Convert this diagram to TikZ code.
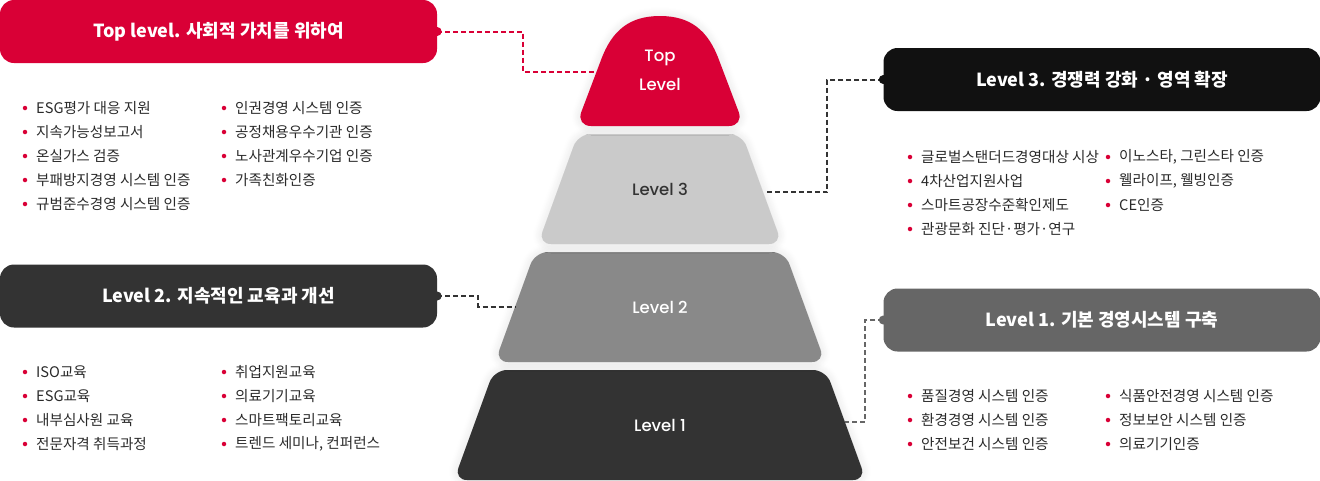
\documentclass[tikz,border=0pt]{standalone}
\usepackage{fontspec}
\usetikzlibrary{shadows.blur}
\setmainfont{Noto Sans CJK KR}
\newfontfamily\popfont{Poppins Medium}
\definecolor{bred}{HTML}{D90036}
\definecolor{hblack}{HTML}{111111}
\definecolor{hdark}{HTML}{333333}
\definecolor{hgrey}{HTML}{666666}
\definecolor{plv3}{HTML}{CACACA}
\definecolor{plv2}{HTML}{898989}
\definecolor{plv1}{HTML}{333333}
\definecolor{txt}{HTML}{2A2A2A}
\tikzset{
  hdr/.style={rounded corners=14pt, minimum width=437pt, minimum height=63pt, inner sep=0pt, text=white, font=\bfseries\fontsize{18}{21}\selectfont},
  item/.style={anchor=west, inner sep=0pt, text=txt, font=\fontsize{14.6}{17}\selectfont},
  bul/.style={circle, fill=bred, inner sep=0pt, minimum size=4.5pt},
  conn/.style={dash pattern=on 5pt off 3pt, line width=2pt},
  lvl/.style={inner sep=0pt, font=\popfont\fontsize{16.5}{20}\selectfont},
  pyr/.style={rounded corners=13pt},
  glow/.style={blur shadow={shadow xshift=0pt, shadow yshift=0pt, shadow blur radius=9pt, shadow opacity=12, shadow blur steps=12}}
}
\begin{document}
\begin{tikzpicture}[x=1pt,y=-1pt]
\useasboundingbox (0,0) rectangle (1320,480);

% pyramid
\fill[plv1, pyr, glow] (494,370) -- (826,370) -- (866,480) -- (454,480) -- cycle;
\fill[plv2, pyr, glow] (535,252) -- (785,252) -- (825,362) -- (495,362) -- cycle;
\fill[plv3, pyr, glow] (578,134) -- (742,134) -- (782,244) -- (538,244) -- cycle;
\fill[bred, glow] (601,60) .. controls (612,30) and (630,16) .. (660,16) .. controls (690,16) and (708,30) .. (719,60) [rounded corners=15pt] -- (744,126) -- (576,126) -- (601,60);

\node[lvl, text=white, align=center] (pt) at (660,70.5) {Top\\[9pt]Level};
\node[lvl, text=hdark] (p3) at (660,189) {Level 3};
\node[lvl, text=white] (p2) at (660,307) {Level 2};
\node[lvl, text=white] (p1) at (660,425) {Level 1};

% headers
\node[hdr, fill=bred] (h0) at (218.5,31.5) {Top level. 사회적 가치를 위하여};
\node[hdr, fill=hdark] (h2) at (218.5,296) {Level 2. 지속적인 교육과 개선};
\node[hdr, fill=hblack] (h3) at (1102,79.5) {Level 3. 경쟁력 강화 · 영역 확장};
\node[hdr, fill=hgrey] (h1) at (1102,320) {Level 1. 기본 경영시스템 구축};

% connectors
\coordinate (c0) at (597,71.5);
\coordinate (c2) at (515,306.5);
\coordinate (c3) at (764,192);
\coordinate (c1) at (845,421.5);
\draw[conn, bred] (h0.east) -- ++(86,0) |- (c0);
\draw[conn, hdark] (h2.east) -- ++(41,0) |- (c2);
\draw[conn, hdark] (h3.west) -- ++(-56,0) |- (c3);
\draw[conn, hgrey] (h1.west) -- ++(-18,0) |- (c1);
\fill[bred] (h0.east) circle (4.5pt);
\fill[hdark] (h2.east) circle (4.5pt);
\fill[hblack] (h3.west) circle (4.5pt);
\fill[hgrey] (h1.west) circle (4.5pt);

% lists
\foreach \t [count=\i] in {{ESG평가 대응 지원},{지속가능성보고서},{온실가스 검증},{부패방지경영 시스템 인증},{규범준수경영 시스템 인증}}{
  \node[bul] (a\i b) at (25,84+24*\i) {};
  \node[item] (a\i) at (36,84+24*\i) {\t};
}
\foreach \t [count=\i] in {{인권경영 시스템 인증},{공정채용우수기관 인증},{노사관계우수기업 인증},{가족친화인증}}{
  \node[bul] (b\i b) at (224,84+24*\i) {};
  \node[item] (b\i) at (235,84+24*\i) {\t};
}
\foreach \t [count=\i] in {{ISO교육},{ESG교육},{내부심사원 교육},{전문자격 취득과정}}{
  \node[bul] (c\i b) at (25,348+24*\i) {};
  \node[item] (c\i) at (36,348+24*\i) {\t};
}
\foreach \t [count=\i] in {{취업지원교육},{의료기기교육},{스마트팩토리교육},{트렌드 세미나, 컨퍼런스}}{
  \node[bul] (d\i b) at (224,348+24*\i) {};
  \node[item] (d\i) at (235,348+24*\i) {\t};
}
\foreach \t [count=\i] in {{글로벌스탠더드경영대상 시상},{4차산업지원사업},{스마트공장수준확인제도},{관광문화 진단·평가·연구}}{
  \node[bul] (e\i b) at (910,133+24*\i) {};
  \node[item] (e\i) at (921,133+24*\i) {\t};
}
\foreach \t [count=\i] in {{이노스타, 그린스타 인증},{웰라이프, 웰빙인증},{CE인증}}{
  \node[bul] (f\i b) at (1108,133+24*\i) {};
  \node[item] (f\i) at (1119,133+24*\i) {\t};
}
\foreach \t [count=\i] in {{품질경영 시스템 인증},{환경경영 시스템 인증},{안전보건 시스템 인증}}{
  \node[bul] (g\i b) at (910,372+24*\i) {};
  \node[item] (g\i) at (921,372+24*\i) {\t};
}
\foreach \t [count=\i] in {{식품안전경영 시스템 인증},{정보보안 시스템 인증},{의료기기인증}}{
  \node[bul] (k\i b) at (1108,372+24*\i) {};
  \node[item] (k\i) at (1119,372+24*\i) {\t};
}
\end{tikzpicture}
\end{document}
